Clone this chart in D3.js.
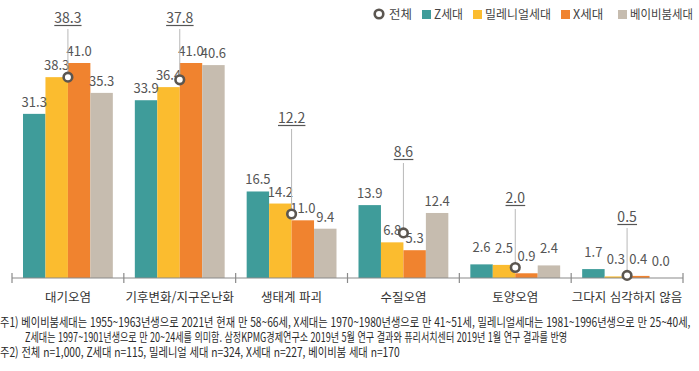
<!DOCTYPE html>
<html lang="ko">
<head>
<meta charset="UTF-8">
<title>세대별 환경 문제 인식</title>
<script src="https://d3js.org/d3.v7.min.js"></script>
<style>
  html, body { margin: 0; padding: 0; background: #fff; }
  body { font-family: 'Noto Sans CJK KR', 'Noto Sans', sans-serif; }
  svg text { font-family: 'Noto Sans CJK KR', 'Noto Sans', sans-serif; }
</style>
</head>
<body>
<div id="chart"></div>
<script>
// categories and series
const categories = ['대기오염', '기후변화/지구온난화', '생태계 파괴', '수질오염', '토양오염', '그다지 심각하지 않음'];
const seriesNames = ['Z세대', '밀레니얼세대', 'X세대', '베이비붐세대'];
const zGen = [31.3, 33.9, 16.5, 13.9, 2.6, 1.7];
const millennial = [38.3, 36.4, 14.2, 6.8, 2.5, 0.3];
const xGen = [41.0, 41.0, 11.0, 5.3, 0.9, 0.4];
const boomer = [35.3, 40.6, 9.4, 12.4, 2.4, 0.0];
const total = [38.3, 37.8, 12.2, 8.6, 2.0, 0.5];
const colors = ['#3f9c9a', '#fbbc2f', '#f0832f', '#c6bcaf'];

const notes = [
  '주1) 베이비붐세대는 1955~1963년생으로 2021년 현재 만 58~66세, X세대는 1970~1980년생으로 만 41~51세, 밀레니얼세대는 1981~1996년생으로 만 25~40세,',
  'Z세대는 1997~1901년생으로 만 20~24세를 의미함. 삼정KPMG경제연구소 2019년 5월 연구 결과와 퓨리서치센터 2019년 1월 연구 결과를 반영',
  '주2) 전체 n=1,000, Z세대 n=115, 밀레니얼 세대 n=324, X세대 n=227, 베이비붐 세대 n=170'
];

const width = 699, height = 371;
const svg = d3.select('#chart').append('svg')
  .attr('width', width).attr('height', height);

// squeeze a text horizontally to a target width (keeps the bbox honest)
function fitWidth(sel, x, y, w) {
  sel.each(function () {
    const natural = this.getComputedTextLength();
    const k = Math.min(1, w / natural);
    d3.select(this).attr('x', 0).attr('y', 0)
      .attr('transform', `translate(${x},${y}) scale(${k},1)`);
  });
}

const x0 = d3.scaleBand().domain(categories).range([12, 683]).paddingInner(0).paddingOuter(0);
const x1 = d3.scaleBand().domain(seriesNames).range([11, x0.bandwidth() - 11]);
const y = d3.scaleLinear().domain([0, 41]).range([278, 63]);

const series = [zGen, millennial, xGen, boomer];

// bars
const groups = svg.append('g').selectAll('g')
  .data(categories)
  .join('g')
  .attr('transform', d => `translate(${x0(d)},0)`);

groups.selectAll('rect')
  .data((c, i) => series.map((s, k) => ({ name: seriesNames[k], v: s[i], k })))
  .join('rect')
  .attr('x', d => x1(d.name))
  .attr('width', x1.bandwidth())
  .attr('y', d => y(d.v))
  .attr('height', d => y(0) - y(d.v))
  .attr('fill', d => colors[d.k]);

// value labels
groups.selectAll('text.val')
  .data((c, i) => series.map((s, k) => ({ name: seriesNames[k], v: s[i], k })))
  .join('text')
  .attr('class', 'val')
  .attr('x', d => x1(d.name) + x1.bandwidth() / 2)
  .attr('y', d => y(d.v) - (d.v < 3 ? 12 : 7))
  .attr('text-anchor', 'middle')
  .attr('font-size', 13)
  .attr('fill', '#555')
  .text(d => d.v.toFixed(1));

// axis
const axis = svg.append('g');
axis.append('line')
  .attr('x1', 12).attr('x2', 683).attr('y1', y(0)).attr('y2', y(0))
  .attr('stroke', '#8a8a8a').attr('stroke-width', 1.2);
const tickX = categories.map(c => x0(c)).concat([x0(categories[categories.length - 1]) + x0.bandwidth()]);
axis.selectAll('line.tick')
  .data(tickX)
  .join('line')
  .attr('class', 'tick')
  .attr('x1', d => d).attr('x2', d => d)
  .attr('y1', y(0) - 5).attr('y2', y(0) + 5)
  .attr('stroke', '#8a8a8a').attr('stroke-width', 1.2);

axis.selectAll('text.cat')
  .data(categories)
  .join('text')
  .attr('class', 'cat')
  .attr('x', d => x0(d) + x0.bandwidth() / 2)
  .attr('y', 302)
  .attr('text-anchor', 'middle')
  .attr('font-size', 12.5)
  .attr('fill', '#333')
  .text(d => d);

// total callouts: label baseline height per group (layout)
const calloutBase = [23, 23, 123, 157, 203, 222];
const callouts = svg.append('g').selectAll('g')
  .data(categories)
  .join('g')
  .attr('transform', d => `translate(${x0(d) + x0.bandwidth() / 2},0)`);

callouts.append('line')
  .attr('x1', 0).attr('x2', 0)
  .attr('y1', (d, i) => calloutBase[i] + 6)
  .attr('y2', (d, i) => y(total[i]) - 4)
  .attr('stroke', '#b8b8b8').attr('stroke-width', 1);

callouts.append('text')
  .attr('x', 0)
  .attr('y', (d, i) => calloutBase[i])
  .attr('text-anchor', 'middle')
  .attr('font-size', 14)
  .attr('fill', '#555')
  .text((d, i) => total[i].toFixed(1))
  .each(function () {
    const bb = this.getBBox();
    d3.select(this.parentNode).append('line')
      .attr('x1', bb.x).attr('x2', bb.x + bb.width)
      .attr('y1', bb.y + bb.height - 1.5).attr('y2', bb.y + bb.height - 1.5)
      .attr('stroke', '#555').attr('stroke-width', 1.2);
  });

callouts.append('circle')
  .attr('cx', 0)
  .attr('cy', (d, i) => y(total[i]))
  .attr('r', 4.3)
  .attr('fill', '#fff')
  .attr('stroke', '#5b5650')
  .attr('stroke-width', 2.6);

// legend
const legend = svg.append('g').attr('font-size', 12.5).attr('fill', '#444');
legend.append('circle').attr('cx', 379).attr('cy', 14).attr('r', 4.3)
  .attr('fill', '#fff').attr('stroke', '#5b5650').attr('stroke-width', 2.6);
legend.append('text').text('전체').call(fitWidth, 389, 19, 23);
const legendX = [422, 473, 561, 618];
const legendW = [29, 66, 31, 63];
seriesNames.forEach((n, k) => {
  legend.append('rect').attr('x', legendX[k]).attr('y', 10).attr('width', 9).attr('height', 9).attr('fill', colors[k]);
  legend.append('text').text(n).call(fitWidth, legendX[k] + 12, 19, legendW[k]);
});

// notes
const noteX = [0, 25, 0];
const noteY = [327, 342, 357];
const noteW = [691, 543, 400];
svg.append('g').selectAll('text')
  .data(notes)
  .join('text')
  .attr('font-size', 12.5)
  .attr('fill', '#2a2a2a')
  .text(d => d)
  .each(function (d, i) { d3.select(this).call(fitWidth, noteX[i], noteY[i], noteW[i]); });
</script>
</body>
</html>
